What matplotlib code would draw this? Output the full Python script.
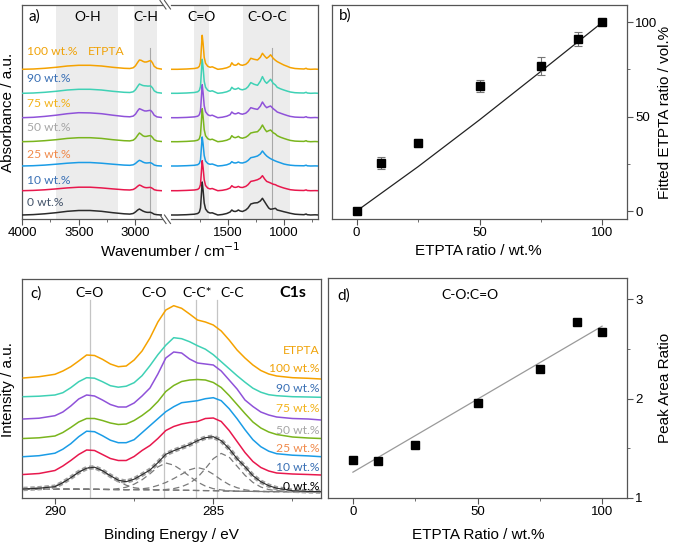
import matplotlib
matplotlib.use('Agg')
import matplotlib.pyplot as plt
from matplotlib.lines import Line2D

plt.rcParams['font.family'] = ['Liberation Sans', 'DejaVu Sans']
ANN = ['Lato', 'DejaVu Sans']

# ---------------- data ----------------
samples = ['0 wt.%', '10 wt.%', '25 wt.%', '50 wt.%', '75 wt.%', '90 wt.%', '100 wt.%']

# a) FTIR, heights above each trace's own baseline (a.u.)
wn_left = [4000, 3900, 3800, 3700, 3600, 3500, 3400, 3300, 3200, 3100, 3050, 3020, 3000,
           2980, 2965, 2950, 2935, 2920, 2905, 2890, 2875, 2865, 2850, 2835, 2810, 2770, 2722]
ir_left = {
    '0 wt.%':   [0, 0.4, 1.2, 2.3, 3.7, 4.5, 4.5, 3.7, 2.3, 1.2, 0.9, 1.5, 3, 5, 6, 5, 4, 3.3, 2.8, 2.6, 2.7, 2.6, 1.8, 0.8, 0.3, 0, 0],
    '10 wt.%':  [0, 0.3, 0.9, 1.8, 2.8, 3.5, 3.5, 2.8, 1.8, 0.9, 0.7, 1.2, 2.5, 4.5, 5.7, 5, 4, 3.3, 3, 3.1, 3.3, 3.2, 2.3, 1, 0.3, 0, 0],
    '25 wt.%':  [0, 0.3, 0.9, 1.8, 2.8, 3.5, 3.5, 2.8, 1.8, 0.9, 0.7, 1.2, 2.5, 4.5, 5.7, 5, 4, 3.3, 3, 3.1, 3.3, 3.2, 2.3, 1, 0.3, 0, 0],
    '50 wt.%':  [0, 0.3, 1, 2, 3.3, 4, 4, 3.3, 2, 1, 0.8, 1.5, 3.3, 6.5, 8.7, 7.5, 6, 5.3, 5.3, 5.7, 6, 6, 4.3, 2, 0.7, 0.2, 0],
    '75 wt.%':  [0, 0.4, 1.3, 2.5, 4, 5, 4.8, 4, 2.5, 1.2, 0.9, 1.6, 3.5, 7, 9, 8.3, 7.5, 6.8, 6.7, 7, 7.3, 7.2, 5.3, 2.5, 0.8, 0.2, 0],
    '90 wt.%':  [0, 0.3, 1, 2, 3.3, 4, 4, 3.3, 2, 1, 0.8, 1.5, 3.5, 7, 9.3, 8.5, 7.8, 7.5, 7.4, 7.2, 7.3, 7.3, 5.5, 2.5, 0.8, 0.2, 0],
    '100 wt.%': [0, 0.3, 1, 2, 3.3, 4, 4, 3.3, 2, 1, 0.8, 1.5, 3.5, 7, 9.3, 9, 8, 7.3, 7.3, 7.8, 8.5, 8.7, 6.5, 3, 1, 0.2, 0],
}
wn_right = [2026, 1950, 1870, 1800, 1770, 1755, 1745, 1738, 1730, 1722, 1712, 1700, 1680, 1660,
            1640, 1620, 1590, 1550, 1510, 1480, 1465, 1450, 1435, 1420, 1407, 1390, 1370, 1340,
            1320, 1295, 1265, 1235, 1210, 1191, 1170, 1153, 1135, 1118, 1095, 1075, 1059, 1030,
            1000, 970, 942, 900, 860, 820, 800, 790, 760, 720, 690]
ir_right = {
    '0 wt.%':   [0, 0, 0.3, 0.8, 1.5, 3, 7, 19, 33, 25, 12, 6, 3, 2, 2.2, 1.3, 0, 0.5, 1.5, 3, 5, 3.8, 3.5, 4, 5, 4, 3.5,
                 5, 7, 11, 12, 12.3, 14, 16.7, 13, 10, 7, 5.7, 6.2, 6.7, 5, 4.2, 3.3, 2.5, 1.7, 0.8, 0.5, 0.3, 1, 0.3, 0, 0.2, 0],
    '10 wt.%':  [0, 0, 0.3, 0.7, 1.3, 2.7, 6.2, 17.5, 30, 23, 11, 5.2, 2.6, 1.8, 2.2, 1.3, 0, 0.4, 1.3, 2.7, 5, 3.7, 3.3, 3.6, 4.3, 3.4, 3.2,
                 4.3, 6, 9.3, 10, 11, 12.5, 15, 11.5, 9.3, 8.5, 7.7, 6.5, 6, 5, 3.8, 2.7, 1.8, 1, 0.5, 0.3, 0.2, 0.8, 0.2, 0, 0.1, 0],
    '25 wt.%':  [0, 0, 0.3, 0.7, 1.3, 2.6, 6, 17, 29, 22, 10.5, 5, 2.5, 1.7, 2, 1.2, 0, 0.4, 1.2, 2.5, 4.3, 3.3, 3, 3.3, 4, 3.2, 3,
                 4, 5.5, 8.3, 9, 10, 12, 15, 12, 10, 8.5, 7.3, 6, 5, 4.3, 3.2, 2, 1.3, 0.8, 0.4, 0.3, 0.2, 0.8, 0.2, 0, 0.1, 0],
    '50 wt.%':  [0, 0, 0.3, 0.8, 1.5, 3, 7, 19, 33, 25, 12, 6, 3, 2, 2.5, 1.5, 0, 0.5, 1.5, 3, 6, 4.5, 4, 4.5, 5.3, 4, 3.5,
                 4.5, 6, 8.7, 9.5, 10, 13, 16.7, 12.5, 10, 11, 11.7, 9, 7.7, 6, 4.5, 3.3, 2.2, 1.3, 0.6, 0.4, 0.3, 1, 0.3, 0, 0.2, 0],
    '75 wt.%':  [0, 0, 0.3, 0.8, 1.5, 3, 7, 19, 33, 25, 12, 6, 3, 2, 2.5, 1.5, 0, 0.5, 1.5, 3, 5.7, 4.3, 3.8, 4.2, 5, 4, 3.5,
                 4.5, 6.5, 10, 9, 8.3, 11.5, 15.7, 12, 10, 11, 11.7, 9, 7.3, 5.7, 4.5, 3.3, 2.2, 1.3, 0.6, 0.4, 0.3, 1, 0.3, 0, 0.2, 0],
    '90 wt.%':  [0, 0, 0.3, 0.8, 1.5, 3, 7, 20, 34, 26, 12, 6, 3, 2, 2.5, 1.5, 0, 0.5, 1.5, 3, 6, 4.5, 4, 4.5, 5.3, 4, 3.5,
                 4.5, 6.5, 10.7, 9, 8, 12, 16.7, 12, 10, 12, 14, 10, 8.3, 6, 4.5, 3.3, 2.2, 1.3, 0.6, 0.4, 0.3, 1, 0.3, 0, 0.2, 0],
    '100 wt.%': [0, 0, 0.3, 0.8, 1.5, 3, 7, 20, 34, 26, 12, 6, 3, 2, 2.5, 1.5, 0, 0.5, 1.5, 3, 6.5, 4.5, 4, 4.5, 6, 4.5, 4,
                 5, 7, 11, 10, 9.3, 12, 16, 13, 11, 12.5, 14.5, 11, 9, 7.7, 6, 4.3, 3, 1.7, 0.8, 0.5, 0.3, 1, 0.3, 0, 0.2, 0],
}

# b) fitted ratio
b_x = [0, 10, 25, 50, 75, 90, 100]
b_y = [0, 25.3, 35.9, 66.3, 76.9, 91.3, 100]
b_err = [0, 3.1, 2.2, 3.3, 4.7, 3.7, 0]
b_fit_x = [0, 25, 50, 75, 100]
b_fit_y = [0, 23.5, 48.3, 74, 100]

# c) XPS C1s, heights above each trace's own baseline (a.u.)
be = [291, 290.5, 290, 289.75, 289.5, 289.25, 289, 288.75, 288.5, 288.25, 288, 287.75, 287.5, 287.25,
      287, 286.75, 286.5, 286.25, 286, 285.75, 285.5, 285.25, 285, 284.75, 284.5, 284.25, 284, 283.75,
      283.5, 283.25, 283, 282.5, 282, 281.6]
xps = {
    '0 wt.%':   [2.7, 3.5, 5, 9, 14, 19.5, 23.5, 24.5, 21, 16, 11.5, 10, 12.5, 17, 21.7, 29, 37.4, 41, 44, 47,
                 51, 54, 55, 51, 43, 33, 25, 16, 10, 6, 3.5, 1, 0.3, 0],
    '10 wt.%':  [0, 1, 4, 8.5, 14, 20, 24.5, 24, 20, 16, 14, 14, 18, 24, 29, 36, 44, 48, 50.5, 52,
                 53, 56, 56.5, 53, 44, 33, 22, 13, 7, 3.5, 1.5, 0.5, 0, -0.5],
    '25 wt.%':  [0, 1, 3.5, 7.5, 13, 20, 25.5, 25, 21, 16.5, 14, 14, 17, 24, 31, 38, 45, 50, 54, 55,
                 56, 58, 59, 56, 48, 38, 27, 17, 10, 5.5, 3, 1.5, 0.8, 0],
    '50 wt.%':  [0, 0.7, 2.5, 6, 11, 16.5, 20, 20, 18, 15.5, 14, 14.5, 18, 23, 29, 37, 47, 53, 57, 58.5,
                 59, 58.5, 56, 51, 43, 34, 25, 16.5, 10.5, 6.5, 4, 1.5, 0.5, 0],
    '75 wt.%':  [0, 0.8, 3.3, 7, 13, 20, 24, 23, 19, 14.5, 12, 12, 16, 23, 31, 45, 61, 67, 66, 60,
                 56, 55, 54, 48, 39, 30, 19, 12.5, 7, 4, 2, 0.5, 0, -1],
    '90 wt.%':  [0, 0.5, 1.7, 4, 9, 15, 19, 18.5, 15, 11, 9.5, 10.5, 14, 21, 31, 42, 51.5, 59, 58, 55,
                 51, 47.5, 42, 35, 28, 21, 14.5, 8.5, 4.5, 2, 1, 0, -0.3, -0.6],
    '100 wt.%': [0, 1.3, 3.7, 7, 11.3, 17, 23, 22.5, 18.7, 14, 11.3, 12, 18, 27, 40, 56, 68, 72.3, 69.7, 64,
                 58, 56, 53, 47, 38, 28, 20, 13, 7.5, 4, 2, 0.3, -0.3, -1],
}
xps_bg = [2.7, 2.7, 2.6, 2.6, 2.6, 2.5, 2.5, 2.4, 2.3, 2.2, 2.1, 2, 2, 1.9, 1.9, 1.8, 1.7, 1.6, 1.5, 1.4,
          1.2, 1.1, 1, 0.8, 0.6, 0.5, 0.4, 0.3, 0.2, 0.1, 0.1, 0, 0, 0]
comp_co_db = [0, 1, 3, 6.5, 11.5, 17, 21.5, 22, 18.5, 13, 8, 4.5, 2, 1, 0.3] + [0] * 19
comp_c_o = [0] * 10 + [1, 2.5, 5.5, 10, 16, 23, 27, 25, 20, 14, 8.5, 4.5, 2, 1, 0.3] + [0] * 9
comp_cc_star = [0] * 12 + [0.3, 1, 2, 4.5, 7.5, 11.5, 16, 20.5, 23, 21, 16.5, 11, 6.5, 3.5, 1.5, 0.5, 0.2] + [0] * 5
comp_cc = [0] * 16 + [0.5, 1.5, 3.5, 7, 13, 22, 32, 37.5, 34, 25, 16, 9, 4.5, 2, 1, 0.2, 0, 0]

# d) peak area ratio
d_x = [0, 10, 25, 50, 75, 90, 100]
d_y = [1.38, 1.37, 1.53, 1.96, 2.30, 2.77, 2.67]
d_fit_x = [0, 100]
d_fit_y = [1.26, 2.73]

# ---------------- styles / layout ----------------
line_col = {'0 wt.%': '#2b2b2b', '10 wt.%': '#e8184d', '25 wt.%': '#1a9ce6', '50 wt.%': '#7ab51d',
            '75 wt.%': '#8f52d9', '90 wt.%': '#3fd1b5', '100 wt.%': '#f5a200'}
text_col = {'0 wt.%': '#44546a', '10 wt.%': '#3a70b5', '25 wt.%': '#f08a4b', '50 wt.%': '#a6a6a6',
            '75 wt.%': '#f2b21b', '90 wt.%': '#3a70b5', '100 wt.%': '#f0a30a'}
off_a = [4, 28.3, 53, 77.3, 101.3, 125.7, 149.7]
lab_a = [16.7, 39, 64.7, 91.3, 115.7, 140, 167.3]
off_c = [6.3, 23.5, 41.3, 59.5, 79, 101.3, 120]
lab_c = [11.3, 30.7, 49.7, 68, 89.7, 109.7, 129]

W, H = 675, 543
fig = plt.figure(figsize=(W / 100, H / 100), dpi=100)


def box(l, t, r, b):
    return [l / W, 1 - b / H, (r - l) / W, (b - t) / H]


def ftext(x, y, s, **kw):
    fig.text(x / W, 1 - y / H, s, **kw)


SP = '#555555'
shade = '#ececec'
vline = '#a8a8a8'


def frame(ax):
    for s in ax.spines.values():
        s.set_color(SP)
        s.set_linewidth(0.9)
    ax.tick_params(which='both', direction='out', color=SP, labelsize=9.5, pad=2)
    ax.tick_params(which='major', length=4)
    ax.tick_params(which='minor', length=2.5)


# ---- panel a (broken axis) ----
a1 = fig.add_axes(box(22, 4.7, 162, 219))
a2 = fig.add_axes(box(171, 4.7, 318, 219))
a1.set_xlim(4000, 2766)
a2.set_xlim(2009, 694)
for ax in (a1, a2):
    frame(ax)
    ax.set_ylim(0, 214.3)
    ax.set_yticks([])
a1.spines['right'].set_visible(False)
a2.spines['left'].set_visible(False)
a1.set_xticks([4000, 3500, 3000])
a1.set_xticks([3750, 3250], minor=True)
a2.set_xticks([1500, 1000])
a2.set_xticks([1750, 1250, 750], minor=True)

a1.axvspan(3700, 3150, color=shade, lw=0, zorder=0)
a1.axvspan(3010, 2810, color=shade, lw=0, zorder=0)
a2.axvspan(1800, 1671, color=shade, lw=0, zorder=0)
a2.axvspan(1362, 948, color=shade, lw=0, zorder=0)
a1.plot([2870, 2870], [0, 171], color=vline, lw=0.8, zorder=1)
a2.plot([1109, 1109], [0, 171], color=vline, lw=0.8, zorder=1)

for i, s in enumerate(samples):
    a1.plot(wn_left, [off_a[i] + v for v in ir_left[s]], color=line_col[s], lw=1.1, zorder=3)
    a2.plot(wn_right, [off_a[i] + v for v in ir_right[s]], color=line_col[s], lw=1.1, zorder=3)
    a1.text(3956, lab_a[i], s, color=text_col[s], fontsize=8.7, family=ANN, va='center', ha='left')
a1.text(3415, lab_a[6], 'ETPTA', color=text_col['100 wt.%'], fontsize=8.7, family=ANN, va='center')
for ax, x, s in [(a1, 3425, 'O-H'), (a1, 2910, 'C-H'), (a2, 1735, 'C=O'), (a2, 1150, 'C-O-C')]:
    ax.text(x, 202.3, s, ha='center', va='center', fontsize=10, family=ANN)
a1.text(3945, 202.5, 'a)', ha='left', va='center', fontsize=11, family=ANN)

# break marks
for (x0, y0) in [(160, 0.5), (164.5, 0.5), (160, 215), (164.5, 215)]:
    fig.add_artist(Line2D([x0 / W, (x0 + 6) / W], [1 - y0 / H, 1 - (y0 + 8.5) / H],
                          color=SP, lw=0.8, transform=fig.transFigure))

ftext(170, 251, 'Wavenumber / cm$^{-1}$', ha='center', va='center', fontsize=11)
ftext(8, 112, 'Absorbance / a.u.', ha='center', va='center', rotation=90, fontsize=11)

# ---- panel b ----
b = fig.add_axes(box(332, 4.7, 627, 219))
frame(b)
b.plot(b_fit_x, b_fit_y, color='#222222', lw=0.9, zorder=2)
b.errorbar(b_x, b_y, yerr=b_err, fmt='s', color='black', ms=5.5, ecolor='#777777',
           elinewidth=0.8, capsize=3, capthick=0.8, zorder=3)
b.set_xlim(-10, 110)
b.set_ylim(-4.2, 109.3)
b.yaxis.tick_right()
b.set_xticks([0, 50, 100])
b.set_xticks([25, 75], minor=True)
b.set_yticks([0, 50, 100])
b.set_yticks([25, 75], minor=True)
b.text(-7, 103.3, 'b)', ha='left', va='center', fontsize=11, family=ANN)
ftext(478, 251, 'ETPTA ratio / wt.%', ha='center', va='center', fontsize=11)
ftext(665, 112, 'Fitted ETPTA ratio / vol.%', ha='center', va='center', rotation=90, fontsize=11)

# ---- panel c ----
c = fig.add_axes(box(22, 279, 321, 498))
frame(c)
c.set_xlim(291.04, 281.6)
c.set_ylim(0, 219)
c.set_yticks([])
c.set_xticks([290, 285])
c.set_xticks([287.5, 282.5], minor=True)
for x in [288.9, 286.56, 285.55, 284.87]:
    c.plot([x, x], [0, 198], color='#c4c4c4', lw=0.9, zorder=1)
for x, s in [(288.9, 'C=O'), (286.86, 'C-O'), (285.5, 'C-C*'), (284.4, 'C-C')]:
    c.text(x, 204.7, s, ha='center', va='center', fontsize=10, family=ANN)
c.text(290.79, 204.7, 'c)', ha='left', va='center', fontsize=11, family=ANN)
c.text(282.5, 204.7, 'C1s', ha='center', va='center', fontsize=11.5, family=ANN, weight='bold')

base0 = off_c[0]
c.plot(be, [base0 + v for v in xps_bg], color='#7a7a7a', lw=0.9, ls=(0, (5, 3)), zorder=2)
for comp in (comp_co_db, comp_c_o, comp_cc_star, comp_cc):
    c.plot(be, [base0 + g + v for g, v in zip(xps_bg, comp)], color='#7a7a7a', lw=0.9,
           ls=(0, (5, 3)), zorder=2)
c.plot(be, [base0 + v for v in xps['0 wt.%']], color='#a0a0a0', lw=3.2, ls=(0, (1, 0.6)), zorder=3)
for i, s in enumerate(samples):
    c.plot(be, [off_c[i] + v for v in xps[s]], color=line_col[s], lw=1.1 if i else 0.8, zorder=4)
    col = 'black' if i == 0 else text_col[s]
    c.text(281.65, lab_c[i], s, color=col, fontsize=8.7, family=ANN, ha='right', va='center')
c.text(281.65, 147.3, 'ETPTA', color=text_col['100 wt.%'], fontsize=8.7, family=ANN,
       ha='right', va='center')
ftext(171, 535, 'Binding Energy / eV', ha='center', va='center', fontsize=11)
ftext(8, 390, 'Intensity / a.u.', ha='center', va='center', rotation=90, fontsize=11)

# ---- panel d ----
d = fig.add_axes(box(328, 278, 627, 498))
frame(d)
d.plot(d_fit_x, d_fit_y, color='#9a9a9a', lw=0.9, zorder=2)
d.plot(d_x, d_y, 's', color='black', ms=5.5, zorder=3)
d.set_xlim(-10, 110)
d.set_ylim(1, 3.215)
d.yaxis.tick_right()
d.set_xticks([0, 50, 100])
d.set_xticks([25, 75], minor=True)
d.set_yticks([1, 2, 3])
d.set_yticks([1.5, 2.5], minor=True)
d.text(-6.3, 3.04, 'd)', ha='left', va='center', fontsize=11, family=ANN)
d.text(46.9, 3.04, 'C-O:C=O', ha='center', va='center', fontsize=10, family=ANN)
ftext(478, 535, 'ETPTA Ratio / wt.%', ha='center', va='center', fontsize=11)
ftext(665, 388, 'Peak Area Ratio', ha='center', va='center', rotation=90, fontsize=11)

fig.savefig('out.png', dpi=100)
